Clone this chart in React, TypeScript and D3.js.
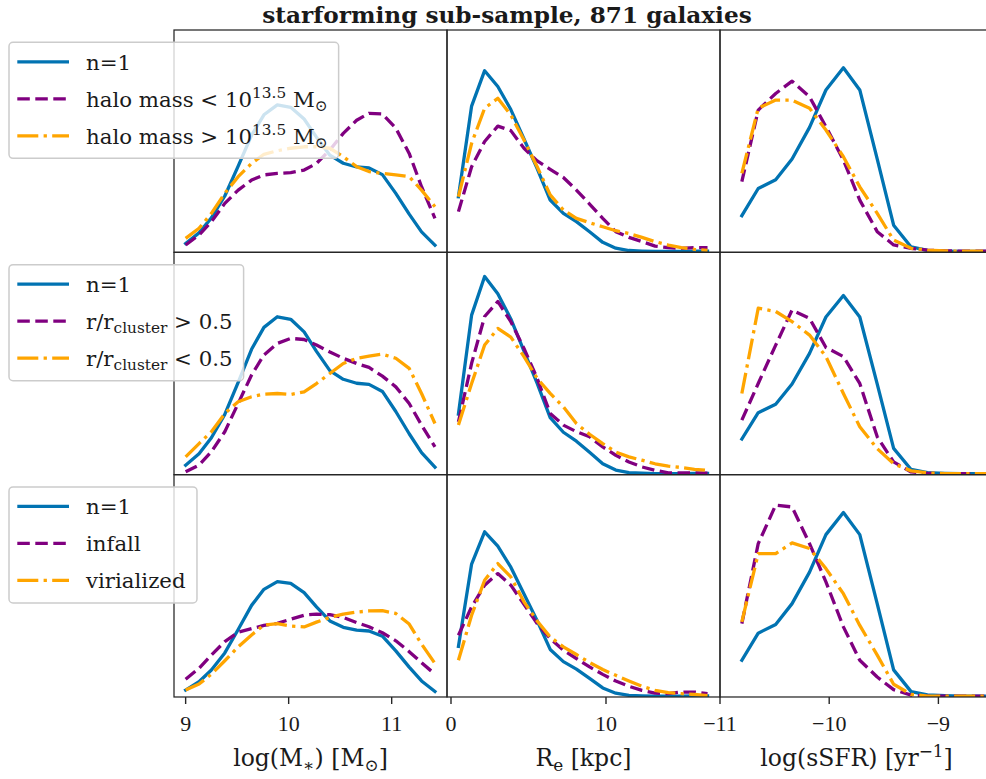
import React, { useEffect, useRef } from "react";
import * as d3 from "d3";

const W = 986;
const H = 779;

// Bin centres of the three distributions
const MASS_BINS = [9.0, 9.13, 9.25, 9.38, 9.51, 9.64, 9.76, 9.89, 10.02, 10.15, 10.27, 10.4, 10.53, 10.66, 10.78, 10.91, 11.04, 11.17, 11.29, 11.42];
const RE_BINS = [0.48, 1.33, 2.17, 3.02, 3.86, 4.71, 5.56, 6.4, 7.25, 8.09, 8.94, 9.79, 10.63, 11.48, 12.32, 13.17, 14.02, 14.86, 15.71, 16.55];
const SSFR_BINS = [-10.8, -10.65, -10.49, -10.34, -10.18, -10.03, -9.87, -9.72, -9.56, -9.41, -9.25, -9.1, -8.94, -8.79, -8.63, -8.48, -8.32, -8.17, -8.01, -7.86];

// n=1 reference sample (frequency relative to its own peak)
const MASS_N1 = [0.06, 0.132, 0.234, 0.382, 0.585, 0.794, 0.933, 1.0, 0.984, 0.904, 0.781, 0.659, 0.604, 0.579, 0.572, 0.527, 0.4, 0.259, 0.139, 0.048];
const RE_N1 = [0.306, 0.805, 1.0, 0.913, 0.786, 0.624, 0.461, 0.288, 0.214, 0.169, 0.113, 0.055, 0.023, 0.01, 0.007, 0.005, 0.005, 0.005, 0.006, 0.006];
const SSFR_N1 = [0.199, 0.346, 0.393, 0.506, 0.677, 0.88, 1.0, 0.88, 0.505, 0.147, 0.029, 0.011, 0.007, 0.005, 0.005, 0.005, 0.005, 0.005, 0.005, 0.005];

// Split by halo mass
const MASS_HALO_LOW = [0.05, 0.118, 0.208, 0.332, 0.422, 0.49, 0.525, 0.535, 0.54, 0.558, 0.603, 0.694, 0.807, 0.896, 0.943, 0.938, 0.842, 0.671, 0.445, 0.231];
const MASS_HALO_HIGH = [0.095, 0.163, 0.264, 0.4, 0.513, 0.603, 0.665, 0.689, 0.706, 0.716, 0.716, 0.706, 0.649, 0.581, 0.548, 0.535, 0.525, 0.513, 0.422, 0.309];
const RE_HALO_LOW = [0.224, 0.471, 0.61, 0.695, 0.67, 0.573, 0.503, 0.457, 0.412, 0.343, 0.266, 0.187, 0.114, 0.082, 0.059, 0.034, 0.026, 0.022, 0.026, 0.026];
const RE_HALO_HIGH = [0.306, 0.6, 0.793, 0.848, 0.756, 0.618, 0.471, 0.316, 0.233, 0.187, 0.163, 0.141, 0.119, 0.104, 0.082, 0.059, 0.04, 0.026, 0.016, 0.011];
const SSFR_HALO_LOW = [0.383, 0.771, 0.861, 0.928, 0.843, 0.681, 0.5, 0.283, 0.112, 0.04, 0.022, 0.012, 0.008, 0.006, 0.006, 0.006, 0.006, 0.006, 0.006, 0.006];
const SSFR_HALO_HIGH = [0.428, 0.781, 0.825, 0.825, 0.781, 0.663, 0.518, 0.355, 0.211, 0.066, 0.022, 0.012, 0.008, 0.006, 0.006, 0.006, 0.006, 0.006, 0.006, 0.006];

// Split by cluster-centric radius
const MASS_OUTER = [0.018, 0.061, 0.145, 0.272, 0.451, 0.631, 0.758, 0.831, 0.863, 0.856, 0.821, 0.777, 0.737, 0.704, 0.679, 0.624, 0.556, 0.451, 0.314, 0.176];
const MASS_INNER = [0.113, 0.197, 0.272, 0.387, 0.462, 0.493, 0.51, 0.514, 0.508, 0.524, 0.577, 0.641, 0.704, 0.737, 0.751, 0.763, 0.737, 0.673, 0.514, 0.324];
const RE_OUTER = [0.266, 0.562, 0.798, 0.874, 0.772, 0.637, 0.486, 0.309, 0.25, 0.217, 0.191, 0.14, 0.098, 0.064, 0.039, 0.022, 0.009, 0.009, 0.009, 0.007];
const RE_INNER = [0.25, 0.46, 0.654, 0.738, 0.694, 0.596, 0.486, 0.41, 0.342, 0.258, 0.204, 0.157, 0.114, 0.09, 0.073, 0.055, 0.043, 0.036, 0.027, 0.022];
const SSFR_OUTER = [0.304, 0.509, 0.723, 0.919, 0.872, 0.71, 0.659, 0.509, 0.211, 0.071, 0.015, 0.007, 0.006, 0.006, 0.006, 0.006, 0.006, 0.006, 0.006, 0.006];
const SSFR_INNER = [0.453, 0.929, 0.911, 0.854, 0.779, 0.659, 0.453, 0.267, 0.145, 0.061, 0.021, 0.01, 0.006, 0.006, 0.006, 0.006, 0.006, 0.006, 0.006, 0.006];

// Split by dynamical state
const MASS_INFALL = [0.154, 0.249, 0.364, 0.48, 0.561, 0.592, 0.62, 0.638, 0.674, 0.709, 0.719, 0.713, 0.69, 0.644, 0.609, 0.557, 0.487, 0.393, 0.297, 0.198];
const MASS_VIRIAL = [0.06, 0.112, 0.198, 0.314, 0.435, 0.538, 0.624, 0.636, 0.615, 0.607, 0.649, 0.69, 0.719, 0.736, 0.746, 0.748, 0.724, 0.632, 0.459, 0.291];
const RE_INFALL = [0.374, 0.545, 0.677, 0.747, 0.677, 0.561, 0.444, 0.354, 0.283, 0.233, 0.182, 0.137, 0.097, 0.065, 0.04, 0.024, 0.02, 0.03, 0.03, 0.02];
const RE_VIRIAL = [0.222, 0.495, 0.707, 0.808, 0.727, 0.576, 0.46, 0.363, 0.303, 0.257, 0.209, 0.166, 0.131, 0.097, 0.065, 0.04, 0.026, 0.02, 0.015, 0.008];
const SSFR_INFALL = [0.398, 0.831, 1.04, 1.03, 0.831, 0.624, 0.38, 0.199, 0.108, 0.04, 0.01, 0.005, 0.005, 0.005, 0.005, 0.005, 0.005, 0.005, 0.005, 0.005];
const SSFR_VIRIAL = [0.407, 0.777, 0.777, 0.835, 0.805, 0.696, 0.56, 0.388, 0.227, 0.069, 0.014, 0.005, 0.005, 0.005, 0.005, 0.005, 0.005, 0.005, 0.005, 0.005];

// Upper y limit of each panel (rows x columns)
const Y_TOP = [
  [1.508, 1.224, 1.205],
  [1.408, 1.122, 1.241],
  [1.927, 1.346, 1.205],
];

const X_DOMAINS: [number, number][] = [
  [8.887, 11.537],
  [-0.258, 17.355],
  [-11.0, -8.5],
];
const X_TICKS = [
  [9, 10, 11],
  [0, 10],
  [-11, -10, -9],
];

type Part = { t: string; sup?: boolean; sub?: boolean };

const X_LABELS: Part[][] = [
  [{ t: "log(M" }, { t: "∗", sub: true }, { t: ") [M" }, { t: "⊙", sub: true }, { t: "]" }],
  [{ t: "R" }, { t: "e", sub: true }, { t: " [kpc]" }],
  [{ t: "log(sSFR) [yr" }, { t: "−1", sup: true }, { t: "]" }],
];

const LEGEND_LABELS: Part[][][] = [
  [
    [{ t: "n=1" }],
    [{ t: "halo mass < 10" }, { t: "13.5", sup: true }, { t: " M" }, { t: "⊙", sub: true }],
    [{ t: "halo mass > 10" }, { t: "13.5", sup: true }, { t: " M" }, { t: "⊙", sub: true }],
  ],
  [
    [{ t: "n=1" }],
    [{ t: "r/r" }, { t: "cluster", sub: true }, { t: " > 0.5" }],
    [{ t: "r/r" }, { t: "cluster", sub: true }, { t: " < 0.5" }],
  ],
  [[{ t: "n=1" }], [{ t: "infall" }], [{ t: "virialized" }]],
];

const BINS = [MASS_BINS, RE_BINS, SSFR_BINS];
const N1 = [MASS_N1, RE_N1, SSFR_N1];
const SUBSETS = [
  [[MASS_HALO_LOW, MASS_HALO_HIGH], [RE_HALO_LOW, RE_HALO_HIGH], [SSFR_HALO_LOW, SSFR_HALO_HIGH]],
  [[MASS_OUTER, MASS_INNER], [RE_OUTER, RE_INNER], [SSFR_OUTER, SSFR_INNER]],
  [[MASS_INFALL, MASS_VIRIAL], [RE_INFALL, RE_VIRIAL], [SSFR_INFALL, SSFR_VIRIAL]],
];

const TITLE = "starforming sub-sample, 871 galaxies";

const STYLES = [
  { color: "#0173b2", dash: "" },
  { color: "#800080", dash: "12.5,5.5" },
  { color: "#ffa500", dash: "21,5.3,3.3,5.3" },
];

const LEFT = 174;
const COL_W = 273;
const TOP = 30;
const ROW_H = 222.33;
const LW = 3.3;
const SERIF = "'DejaVu Serif', serif";
const TICK_FONT = "'Liberation Serif', 'DejaVu Serif', serif";

function appendRich(
  sel: d3.Selection<SVGTextElement, unknown, null, undefined>,
  parts: Part[],
  size: number
) {
  let shift = 0;
  parts.forEach((p) => {
    const target = p.sup ? -0.42 * size : p.sub ? 0.2 * size : 0;
    sel
      .append("tspan")
      .attr("dy", target - shift)
      .attr("font-size", p.sup || p.sub ? size * 0.72 : size)
      .text(p.t);
    shift = target;
  });
}

export default function App() {
  const ref = useRef<SVGSVGElement>(null);

  useEffect(() => {
    const svg = d3.select(ref.current);
    svg.selectAll("*").remove();

    svg.append("rect").attr("width", W).attr("height", H).attr("fill", "#fff");

    const defs = svg.append("defs");
    const xScales = X_DOMAINS.map((d, c) =>
      d3.scaleLinear().domain(d).range([LEFT + c * COL_W, LEFT + (c + 1) * COL_W])
    );

    for (let r = 0; r < 3; r++) {
      const top = TOP + r * ROW_H;
      const bottom = top + ROW_H;
      for (let c = 0; c < 3; c++) {
        const x0 = LEFT + c * COL_W;
        const clipId = `clip-${r}-${c}`;
        defs
          .append("clipPath")
          .attr("id", clipId)
          .append("rect")
          .attr("x", x0)
          .attr("y", top)
          .attr("width", COL_W)
          .attr("height", ROW_H);

        const x = xScales[c];
        const y = d3.scaleLinear().domain([0, Y_TOP[r][c]]).range([bottom, top]);
        const bins = BINS[c];
        const series = [N1[c], SUBSETS[r][c][0], SUBSETS[r][c][1]];

        const g = svg.append("g").attr("clip-path", `url(#${clipId})`);
        series.forEach((vals, k) => {
          const line = d3
            .line<number>()
            .x((_, i) => x(bins[i]))
            .y((v) => y(v));
          g.append("path")
            .attr("d", line(vals))
            .attr("fill", "none")
            .attr("stroke", STYLES[k].color)
            .attr("stroke-width", LW)
            .attr("stroke-linejoin", "round")
            .attr("stroke-linecap", k === 0 ? "square" : "butt")
            .attr("stroke-dasharray", STYLES[k].dash || null);
        });

        svg
          .append("rect")
          .attr("x", x0)
          .attr("y", top)
          .attr("width", COL_W)
          .attr("height", ROW_H)
          .attr("fill", "none")
          .attr("stroke", "#262626")
          .attr("stroke-width", 1.25);
      }
    }

    // bottom x axes
    const axisY = TOP + 3 * ROW_H;
    for (let c = 0; c < 3; c++) {
      const x = xScales[c];
      const ax = svg.append("g");
      X_TICKS[c].forEach((t) => {
        ax.append("line")
          .attr("x1", x(t))
          .attr("x2", x(t))
          .attr("y1", axisY)
          .attr("y2", axisY + 7)
          .attr("stroke", "#262626")
          .attr("stroke-width", 1.4);
        ax.append("text")
          .attr("x", x(t))
          .attr("y", axisY + 34.5)
          .attr("text-anchor", "middle")
          .attr("font-family", TICK_FONT)
          .attr("font-size", 22)
          .attr("fill", "#1a1a1a")
          .text(d3.format("")(t).replace("-", "−"));
      });
      const lab = ax
        .append("text")
        .attr("x", LEFT + (c + 0.5) * COL_W)
        .attr("y", axisY + 69.5)
        .attr("text-anchor", "middle")
        .attr("font-family", SERIF)
        .attr("fill", "#1a1a1a")
        .style("white-space", "pre");
      appendRich(lab, X_LABELS[c], 23.5);
    }

    // legends
    for (let r = 0; r < 3; r++) {
      const top = TOP + r * ROW_H + 12.3;
      const lg = svg.append("g");
      const box = lg
        .append("rect")
        .attr("x", 9)
        .attr("y", top)
        .attr("height", 116)
        .attr("rx", 4)
        .attr("fill", "#fff")
        .attr("fill-opacity", 0.8)
        .attr("stroke", "#cccccc")
        .attr("stroke-width", 1.5);
      let maxRight = 0;
      LEGEND_LABELS[r].forEach((parts, k) => {
        const cy = top + 19.5 + k * 37;
        lg.append("line")
          .attr("x1", 17.3)
          .attr("x2", 69)
          .attr("y1", cy)
          .attr("y2", cy)
          .attr("stroke", STYLES[k].color)
          .attr("stroke-width", LW)
          .attr("stroke-dasharray", STYLES[k].dash || null);
        const t = lg
          .append("text")
          .attr("x", 86)
          .attr("y", cy + 7.8)
          .attr("font-family", SERIF)
          .attr("fill", "#1a1a1a")
          .style("white-space", "pre");
        appendRich(t, parts, 21.3);
        const bb = (t.node() as SVGTextElement).getBBox();
        maxRight = Math.max(maxRight, bb.x + bb.width);
      });
      box.attr("width", maxRight + 11 - 9);
    }

    svg
      .append("text")
      .attr("x", 507)
      .attr("y", 22.5)
      .attr("text-anchor", "middle")
      .attr("font-family", SERIF)
      .attr("font-weight", "bold")
      .attr("font-size", 23.2)
      .attr("fill", "#1a1a1a")
      .text(TITLE);
  }, []);

  return (
    <svg
      ref={ref}
      width={W}
      height={H}
      style={{ position: "absolute", left: 0, top: 0, display: "block" }}
    />
  );
}
